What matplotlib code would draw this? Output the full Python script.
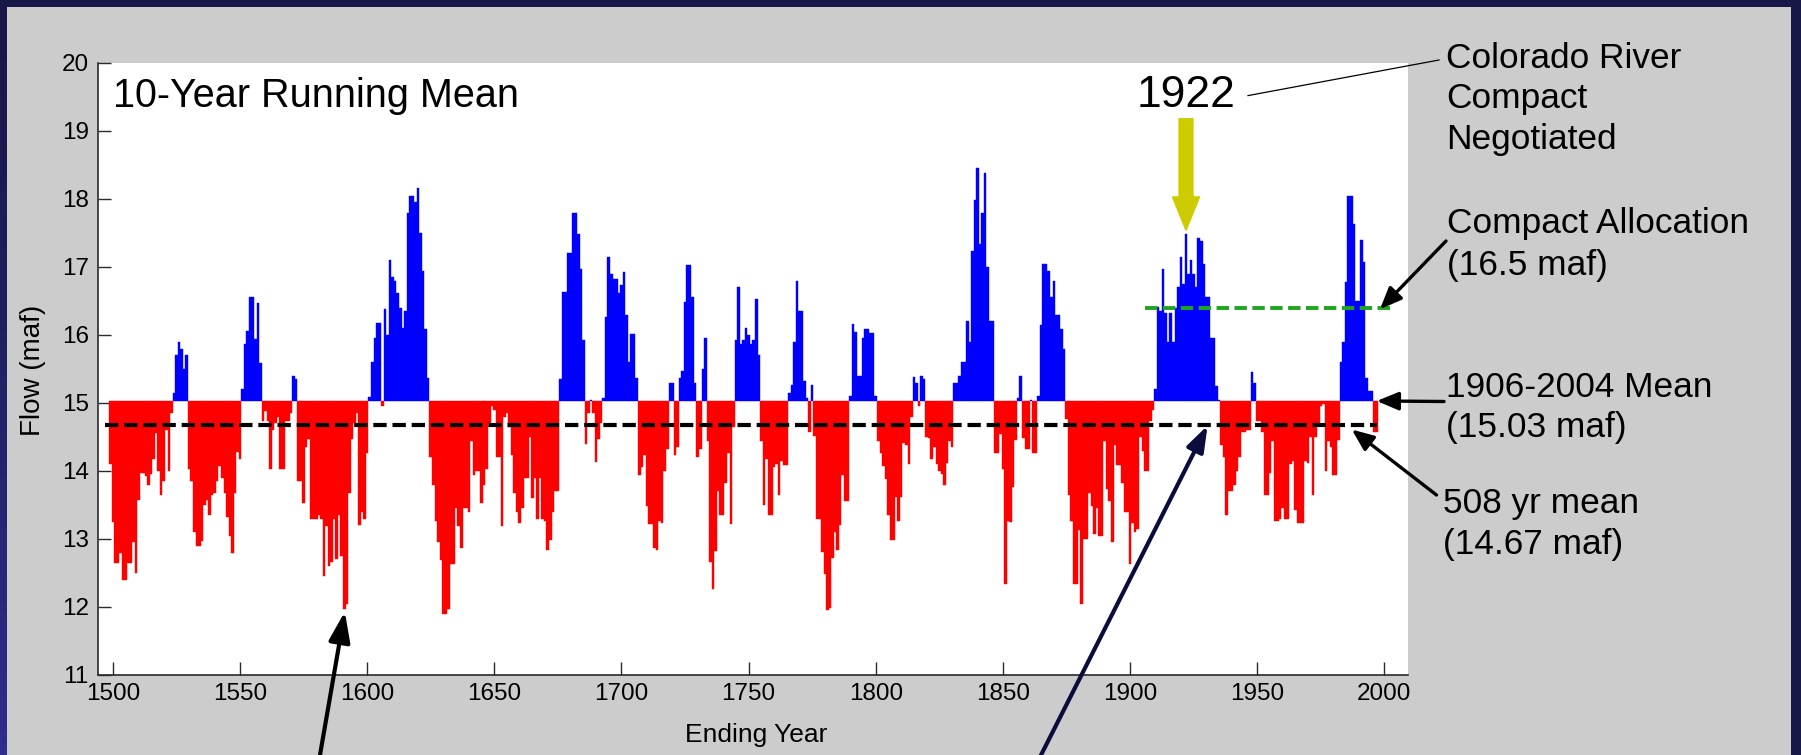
import numpy as np
import matplotlib
matplotlib.use('Agg')
import matplotlib.pyplot as plt
from matplotlib.patches import Rectangle, FancyArrowPatch, ArrowStyle
from matplotlib.lines import Line2D

plt.rcParams['font.family'] = ['Liberation Sans', 'DejaVu Sans']

# ---------------- data: 10-year running mean of Lees Ferry flow (maf), ending years 1499-1997
first_year = 1499
flow_1500s = [  # 1499-1599
    14.10, 13.25, 12.65, 12.65, 12.80, 12.40, 12.40, 12.65, 12.65, 12.95,
    12.50, 13.57, 13.97, 13.97, 13.92, 13.80, 13.96, 14.17, 14.56, 14.00,
    13.64, 13.85, 14.60, 14.00, 14.85, 15.15, 15.70, 15.90, 15.80, 15.50,
    15.70, 14.03, 13.85, 13.10, 12.90, 12.90, 12.97, 13.50, 13.57, 13.36,
    13.64, 13.68, 13.85, 14.07, 13.90, 13.68, 13.32, 13.04, 12.80, 13.68,
    14.28, 14.17, 15.20, 15.87, 16.06, 16.56, 16.56, 15.94, 16.47, 15.59,
    14.74, 14.88, 14.74, 14.03, 14.60, 14.70, 14.80, 14.03, 14.03, 14.74,
    14.74, 14.85, 15.40, 15.35, 13.85, 13.85, 13.53, 14.35, 14.47, 13.30,
    13.30, 13.30, 13.35, 13.30, 12.46, 13.19, 12.60, 12.66, 13.30, 12.70,
    13.36, 12.75, 11.97, 12.05, 13.68, 14.47, 14.70, 14.85, 13.20, 13.40,
    13.30]
flow_1600s = [  # 1600-1699
    14.26, 15.09, 15.60, 15.96, 16.18, 16.18, 14.95, 16.38, 16.00, 17.10,
    16.86, 16.80, 16.62, 16.40, 16.10, 16.35, 17.80, 18.04, 18.04, 17.95,
    18.16, 17.50, 16.94, 16.09, 15.37, 14.20, 13.80, 13.27, 12.95, 12.69,
    11.90, 11.90, 11.97, 12.63, 12.63, 13.45, 13.19, 12.87, 13.45, 13.45,
    13.40, 14.44, 13.94, 14.00, 14.00, 13.53, 13.80, 14.03, 14.70, 14.95,
    14.90, 14.20, 14.20, 13.19, 14.80, 14.85, 14.64, 14.23, 13.68, 13.40,
    13.24, 13.45, 13.90, 13.90, 14.50, 13.60, 13.90, 13.30, 13.90, 13.30,
    13.27, 12.84, 12.98, 13.40, 13.70, 13.70, 15.35, 16.63, 16.63, 17.20,
    17.20, 17.80, 17.80, 17.49, 16.97, 15.92, 14.40, 14.85, 15.05, 14.85,
    14.13, 14.47, 14.70, 15.07, 16.26, 17.15, 16.90, 16.82, 16.82, 16.62]
flow_1700s = [  # 1700-1799
    16.73, 16.93, 16.30, 15.60, 16.02, 16.02, 15.37, 13.94, 14.06, 14.23,
    13.48, 13.22, 13.22, 12.87, 12.84, 13.27, 13.24, 14.00, 14.32, 15.29,
    15.29, 14.23, 14.35, 15.37, 15.47, 16.49, 17.03, 17.03, 16.56, 15.30,
    14.20, 14.32, 15.50, 15.95, 14.44, 12.66, 12.26, 12.82, 13.71, 13.36,
    13.36, 13.83, 14.27, 13.22, 14.64, 15.92, 16.70, 15.87, 15.92, 16.10,
    16.00, 15.87, 15.92, 16.53, 15.70, 14.44, 13.50, 14.17, 13.36, 13.36,
    14.06, 14.10, 13.65, 14.15, 14.09, 14.09, 15.15, 15.27, 15.90, 16.79,
    16.35, 16.35, 15.33, 15.07, 14.58, 15.27, 14.52, 13.30, 13.30, 12.81,
    12.49, 11.95, 11.99, 12.72, 13.10, 12.84, 13.20, 13.94, 13.56, 13.56,
    15.10, 16.16, 16.05, 15.40, 15.40, 15.95, 16.09, 16.09, 16.03, 16.03]
flow_1800s = [  # 1800-1899
    15.10, 14.44, 14.26, 14.08, 13.88, 13.36, 12.98, 12.98, 13.62, 13.27,
    13.62, 14.41, 14.38, 14.10, 14.80, 15.38, 15.30, 14.95, 15.40, 15.35,
    14.50, 14.49, 14.17, 14.35, 14.10, 14.00, 13.95, 13.80, 14.12, 14.44,
    14.35, 15.29, 15.29, 15.40, 15.60, 15.60, 16.20, 15.90, 17.23, 17.98,
    18.45, 17.34, 17.80, 18.38, 17.00, 16.20, 16.20, 14.26, 14.26, 14.55,
    14.03, 12.34, 13.27, 13.25, 13.77, 14.45, 15.07, 15.40, 14.49, 14.32,
    14.32, 15.04, 14.26, 14.26, 15.10, 16.14, 17.05, 17.05, 16.94, 16.56,
    16.80, 16.30, 16.30, 16.09, 15.80, 14.76, 13.65, 13.27, 12.34, 12.34,
    13.13, 12.05, 13.00, 13.00, 13.68, 13.48, 13.07, 13.45, 13.05, 13.05,
    14.44, 13.74, 13.56, 12.95, 14.38, 14.09, 14.09, 13.83, 13.40, 13.40]
flow_1900s = [  # 1900-1997
    12.63, 13.24, 13.10, 13.15, 14.50, 14.30, 14.00, 14.00, 14.73, 14.90,
    15.20, 16.41, 16.35, 16.97, 16.33, 15.90, 16.33, 15.90, 16.40, 16.70,
    17.14, 16.75, 17.49, 16.90, 17.10, 16.90, 16.70, 17.43, 17.38, 17.05,
    16.56, 16.56, 15.95, 15.95, 15.25, 15.05, 14.38, 14.20, 13.36, 13.71,
    13.71, 13.80, 14.00, 14.20, 14.58, 14.58, 14.61, 14.61, 15.45, 15.30,
    14.74, 14.74, 14.58, 13.65, 13.65, 13.97, 14.44, 13.27, 13.27, 13.30,
    13.45, 13.30, 13.30, 14.10, 14.15, 13.42, 13.24, 13.24, 13.24, 14.15,
    14.12, 14.50, 13.65, 14.50, 14.67, 14.95, 14.99, 14.00, 14.44, 14.35,
    13.94, 13.94, 14.45, 15.60, 15.90, 16.78, 18.04, 18.04, 17.63, 16.50,
    16.50, 17.40, 17.08, 15.37, 15.18, 15.18, 14.58, 14.58]

base_mean = 15.03        # 1906-2004 mean (bar baseline)
long_mean = 14.67        # 508 yr mean
compact_level = 16.4     # compact allocation line as drawn
x_ticks = [1500, 1550, 1600, 1650, 1700, 1750, 1800, 1850, 1900, 1950, 2000]
y_ticks = [11, 12, 13, 14, 15, 16, 17, 18, 19, 20]

flow = np.array(flow_1500s + flow_1600s + flow_1700s + flow_1800s + flow_1900s)
years = np.arange(first_year, first_year + len(flow))

# ---------------- figure
W, H = 1801, 755
fig = plt.figure(figsize=(W / 100, H / 100), dpi=100)

# slide background (navy with slight gradient)
bg = fig.add_axes([0, 0, 1, 1])
bg.set_axis_off()
gx, gy = np.meshgrid(np.linspace(0, 1, 200), np.linspace(0, 1, 100))
t = np.clip((1 - gx) * gy, 0, 1) ** 1.2
dark = np.array([0x17, 0x17, 0x48]) / 255
light = np.array([0x2e, 0x2e, 0x8c]) / 255
img = dark[None, None, :] * (1 - t[..., None]) + light[None, None, :] * t[..., None]
bg.imshow(img, extent=[0, 1, 0, 1], aspect='auto', origin='upper')
bg.set_xlim(0, 1)
bg.set_ylim(0, 1)
bg.add_patch(Rectangle((7 / W, 0), (1791 - 7) / W, (H - 7) / H,
                       transform=bg.transAxes, facecolor='#cccccc', edgecolor='none'))

# main axes
ax = fig.add_axes([98.4 / W, 80 / H, (1408 - 98.4) / W, (675 - 63) / H])
ax.set_facecolor('white')
colors = np.where(flow >= base_mean, '#0000ff', '#ff0000')
ax.bar(years, flow - base_mean, bottom=base_mean, width=1.0, color=colors,
       edgecolor=colors, linewidth=0.3, zorder=2)

ax.plot([1497, 1997], [long_mean, long_mean], color='black', lw=3.0,
        dashes=(3.2, 1.4), zorder=3, dash_capstyle='butt')
ax.plot([1906, 2003], [compact_level, compact_level], color='#1fa51f', lw=2.8,
        dashes=(3.2, 1.4), zorder=3, dash_capstyle='butt')

ax.set_xlim(1494.3, 2009.3)
ax.set_ylim(11, 20)
ax.set_xticks(x_ticks)
ax.set_yticks(y_ticks)
for s in ['top', 'right']:
    ax.spines[s].set_visible(False)
for s in ['left', 'bottom']:
    ax.spines[s].set_color('#2a2a2a')
    ax.spines[s].set_linewidth(1.2)
ax.tick_params(direction='in', length=9.5, width=1.0, labelsize=17.5, color='#2a2a2a')
ax.tick_params(axis='x', pad=6)
ax.tick_params(axis='y', pad=7)

ax.text(1500, 19.35, '10-Year Running Mean', fontsize=28.5, ha='left', va='baseline', zorder=5)
ax.text(1922, 19.35, '1922', fontsize=32, ha='center', va='baseline', zorder=5)

# yellow arrow at 1922
ya = FancyArrowPatch((1922, 19.18), (1922, 17.54),
                     arrowstyle=ArrowStyle.Simple(head_length=24, head_width=19.5, tail_width=10),
                     mutation_scale=1, color='#cccc00', shrinkA=0, shrinkB=0, zorder=6)
ax.add_patch(ya)

fig.text(32.5 / W, (H - 370) / H, 'Flow (maf)', rotation=90, ha='center', va='center', fontsize=20)
fig.text(756 / W, (H - 735) / H, 'Ending Year', ha='center', va='center', fontsize=19)

# line from "1922" to the Colorado River note
fig.add_artist(Line2D([1248 / W, 1439 / W], [(H - 95.6) / H, (H - 60) / H],
                      transform=fig.transFigure, color='black', lw=0.9))

def note(x, y, s):
    fig.text(x / W, (H - y) / H, s, fontsize=25.4, ha='left', va='baseline')

note(1446, 68.3, 'Colorado River')
note(1446, 108.3, 'Compact')
note(1446, 149.5, 'Negotiated')
note(1447, 233.3, 'Compact Allocation')
note(1447, 275, '(16.5 maf)')
note(1446, 396.7, '1906-2004 Mean')
note(1446, 436.7, '(15.03 maf)')
note(1443, 513.3, '508 yr mean')
note(1443, 554, '(14.67 maf)')

def arrow(tip, tail_px, color='black', lw=2.4, hl=1.2, hw=0.5, ms=11):
    ax.annotate('', xy=tip, xycoords='data',
                xytext=(tail_px[0], H - tail_px[1]), textcoords='figure pixels',
                arrowprops=dict(arrowstyle=f'-|>,head_length={hl},head_width={hw}',
                                mutation_scale=ms, lw=lw, color=color,
                                shrinkA=0, shrinkB=0),
                annotation_clip=False, zorder=7)

arrow((1998.3, 16.38), (1446, 241))
arrow((1997.0, base_mean), (1444, 401.5))
arrow((1987.2, 14.61), (1436.5, 495))
arrow((1591.2, 11.93), (312.2, 800), lw=3.0, hl=1.4, hw=0.5, ms=13)
arrow((1930.5, long_mean), (1018.3, 800), color='#0b0b3e', lw=3.0, hl=1.3, hw=0.45, ms=12)

fig.savefig('out.png', dpi=100, facecolor=fig.get_facecolor())
